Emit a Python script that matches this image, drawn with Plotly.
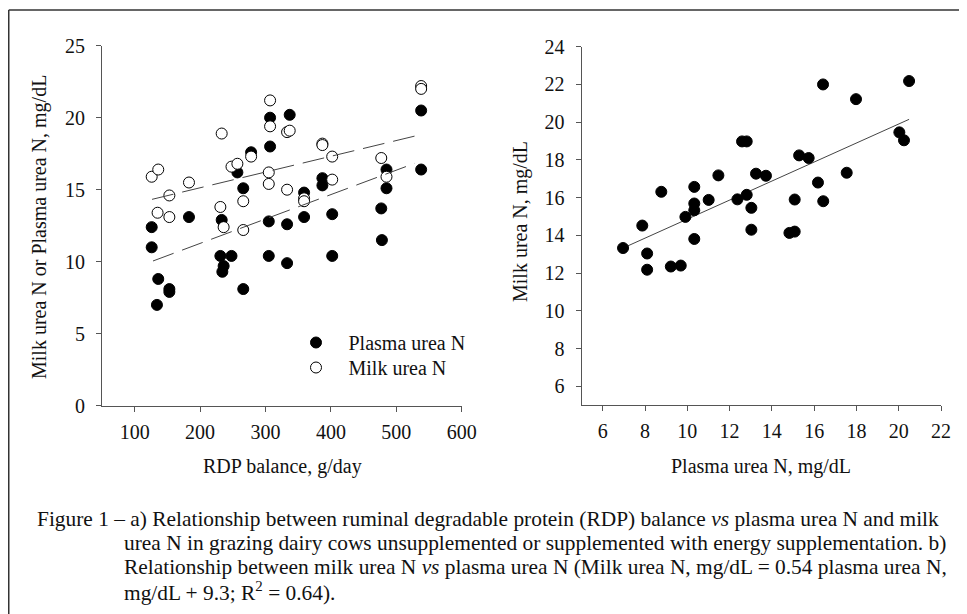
import plotly.graph_objects as go

# ---------------- data ----------------
# Panel a) RDP balance vs plasma urea N (filled) and milk urea N (open)
rdp_plasma = [126, 126, 136, 134, 153, 153, 183, 233, 231, 248, 236, 234, 257, 266, 266,
              278, 307, 307, 305, 305, 337, 333, 333, 359, 359, 387, 387, 402, 402, 477,
              478, 485, 485, 538, 538]
plasma_urea_n = [12.4, 11.0, 8.8, 7.0, 8.1, 7.9, 13.1, 12.9, 10.4, 10.4, 9.7, 9.3, 16.2, 15.1, 8.1,
                 17.6, 20.0, 18.0, 12.8, 10.4, 20.2, 12.6, 9.9, 14.8, 13.1, 15.8, 15.3, 13.3, 10.4, 13.7,
                 11.5, 16.4, 15.1, 20.5, 16.4]

rdp_milk = [126, 136, 153, 183, 135, 153, 233, 248, 257, 278, 231, 236, 266, 266, 307,
            307, 305, 305, 333, 337, 333, 359, 359, 387, 387, 402, 402, 477, 485, 538, 538]
milk_urea_n = [15.9, 16.4, 14.6, 15.5, 13.4, 13.1, 18.9, 16.6, 16.8, 17.3, 13.8, 12.4, 14.2, 12.2, 21.2,
               19.4, 16.2, 15.4, 19.0, 19.1, 15.0, 14.4, 14.2, 18.2, 18.1, 17.3, 15.7, 17.2, 15.9, 22.2, 22.0]

# fitted (dashed) lines of panel a), end points
milk_fit_x = [126.5, 528]
milk_fit_y = [14.33, 18.72]
plasma_fit_x = [128, 528]
plasma_fit_y = [10.05, 16.83]

# Panel b) plasma urea N vs milk urea N
b_plasma = [6.96, 7.87, 8.10, 8.10, 9.22, 9.69, 8.77, 9.91, 10.33, 10.33, 10.33, 10.33,
            11.01, 11.47, 12.37, 12.59, 12.81, 12.81, 13.03, 13.03, 13.25, 13.72, 14.83,
            15.08, 15.08, 15.29, 15.74, 16.18, 16.43, 16.42, 17.54, 17.98, 20.03, 20.25, 20.49]
b_milk = [13.33, 14.52, 13.04, 12.18, 12.35, 12.40, 16.31, 14.98, 16.57, 15.69, 15.33, 13.81,
          15.88, 17.18, 15.91, 18.98, 18.98, 16.15, 15.46, 14.30, 17.27, 17.16, 14.13,
          14.20, 15.90, 18.24, 18.10, 16.80, 15.81, 22.00, 17.32, 21.22, 19.46, 19.04, 22.18]
b_fit_x = [7.18, 20.49]
b_fit_y = [13.44, 20.15]

# tick values
a_xticks = [100, 200, 300, 400, 500, 600]
a_yticks = [0, 5, 10, 15, 20, 25]
b_xticks = [6, 8, 10, 12, 14, 16, 18, 20, 22]
b_yticks = [6, 8, 10, 12, 14, 16, 18, 20, 22, 24]

caption_lines = [
    "Figure 1 \u2013 a) Relationship between ruminal degradable protein (RDP) balance <i>vs</i> plasma urea N and milk",
    "urea N in grazing dairy cows unsupplemented or supplemented with energy supplementation. b)",
    "Relationship between milk urea N <i>vs</i> plasma urea N (Milk urea N, mg/dL = 0.54 plasma urea N,",
    "mg/dL + 9.3; R<sup>2</sup> = 0.64).",
]

# ---------------- figure ----------------
W, H = 967, 614
OFF = 8  # the page body places the figure 8px from the window edge
FONT = "Liberation Serif, Times New Roman, serif"
TXT = "#111111"
AX = "#555555"
FS = 20
CAP_FS = 21.4


def px(x):
    """window pixel x -> paper fraction"""
    return (x - OFF) / W


def py(y):
    """window pixel y -> paper fraction"""
    return 1 - (y - OFF) / H


fig = go.Figure()

fig.add_trace(go.Scatter(
    x=rdp_plasma, y=plasma_urea_n, mode="markers", name="Plasma urea N",
    marker=dict(size=11, color="black", line=dict(color="black", width=1)),
    xaxis="x", yaxis="y", legend="legend"))
fig.add_trace(go.Scatter(
    x=rdp_milk, y=milk_urea_n, mode="markers", name="Milk urea N",
    marker=dict(size=11, color="white", line=dict(color="black", width=1)),
    xaxis="x", yaxis="y", legend="legend2"))
fig.add_trace(go.Scatter(
    x=milk_fit_x, y=milk_fit_y, mode="lines", showlegend=False,
    line=dict(color="#444444", width=1, dash="22px,9px"), xaxis="x", yaxis="y"))
fig.add_trace(go.Scatter(
    x=plasma_fit_x, y=plasma_fit_y, mode="lines", showlegend=False,
    line=dict(color="#444444", width=1, dash="22px,9px"), xaxis="x", yaxis="y"))

fig.add_trace(go.Scatter(
    x=b_fit_x, y=b_fit_y, mode="lines", showlegend=False,
    line=dict(color="#444444", width=1), xaxis="x2", yaxis="y2"))
fig.add_trace(go.Scatter(
    x=b_plasma, y=b_milk, mode="markers", showlegend=False,
    marker=dict(size=11, color="black", line=dict(color="black", width=1)),
    xaxis="x2", yaxis="y2"))

axis_common = dict(
    showgrid=False, zeroline=False, showline=True, linecolor=AX, linewidth=1,
    ticks="outside", ticklen=5, tickcolor=AX, tickwidth=1, automargin=False,
    tickfont=dict(family=FONT, size=FS, color=TXT),
)
xaxis_extra = dict(ticklabelstandoff=3)
yaxis_extra = dict(ticklabelstandoff=7)

legend_common = dict(xanchor="left", yanchor="top", bgcolor="rgba(0,0,0,0)",
                     borderwidth=0, font=dict(family=FONT, size=FS, color=TXT),
                     itemwidth=55, tracegroupgap=0)

fig.update_layout(
    width=W, height=H,
    margin=dict(l=0, r=0, t=0, b=0, pad=0, autoexpand=False),
    paper_bgcolor="white", plot_bgcolor="white",
    font=dict(family=FONT, size=FS, color=TXT),
    xaxis=dict(domain=[px(102), px(461.7)], range=[50, 600], tickvals=a_xticks,
               anchor="y", **axis_common, **xaxis_extra),
    yaxis=dict(domain=[py(405.7), py(45.7)], range=[0, 25], tickvals=a_yticks,
               anchor="x", **axis_common, **yaxis_extra),
    xaxis2=dict(domain=[px(581.6), px(941)], range=[5, 22], tickvals=b_xticks,
                anchor="y2", **axis_common, **xaxis_extra),
    yaxis2=dict(domain=[py(405.2), py(46.7)], range=[5, 24], tickvals=b_yticks,
                anchor="x2", **axis_common, **yaxis_extra),
    showlegend=True,
    legend=dict(x=px(283.5), y=py(323), **legend_common),
    legend2=dict(x=px(283.5), y=py(348), **legend_common),
)

annotations = [
    dict(text="RDP balance, g/day", x=px(282), y=py(466), xref="paper", yref="paper",
         showarrow=False, xanchor="center", yanchor="middle",
         font=dict(family=FONT, size=FS, color=TXT)),
    dict(text="Plasma urea N, mg/dL", x=px(761), y=py(466), xref="paper", yref="paper",
         showarrow=False, xanchor="center", yanchor="middle",
         font=dict(family=FONT, size=FS, color=TXT)),
    dict(text="Milk urea N or Plasma urea N, mg/dL", x=px(40), y=py(227), xref="paper",
         yref="paper", showarrow=False, xanchor="center", yanchor="middle", textangle=-90,
         font=dict(family=FONT, size=FS, color=TXT)),
    dict(text="Milk urea N, mg/dL", x=px(521), y=py(222), xref="paper",
         yref="paper", showarrow=False, xanchor="center", yanchor="middle", textangle=-90,
         font=dict(family=FONT, size=FS, color=TXT)),
]
cap_x = [35, 122, 122, 122]
cap_y = [519, 543, 567, 591]
for t, cx, cy in zip(caption_lines, cap_x, cap_y):
    annotations.append(dict(text=t, x=px(cx), y=py(cy), xref="paper", yref="paper",
                            showarrow=False, xanchor="left", yanchor="middle",
                            font=dict(family=FONT, size=CAP_FS, color=TXT)))
fig.update_layout(annotations=annotations)

# figure frame (top and left border of the scanned figure)
fig.add_shape(type="line", xref="paper", yref="paper", x0=px(8.75), x1=1.0, y0=py(10), y1=py(10),
              line=dict(color="#333333", width=1.5))
fig.add_shape(type="line", xref="paper", yref="paper", x0=px(8.75), x1=px(8.75), y0=py(10), y1=0,
              line=dict(color="#333333", width=1.5))

fig.write_html("out.html")
